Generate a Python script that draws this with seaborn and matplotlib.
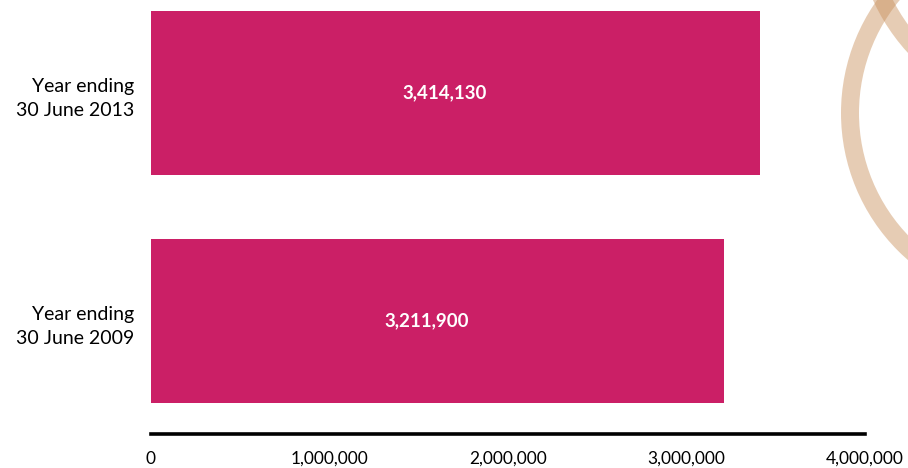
import matplotlib
matplotlib.use("Agg")
import matplotlib.pyplot as plt
import matplotlib.patches as mpatches
import seaborn as sns
import pandas as pd

categories = ["Year ending\n30 June 2013", "Year ending\n30 June 2009"]
values = [3414130, 3211900]
value_labels = ["3,414,130", "3,211,900"]
tick_values = [0, 1000000, 2000000, 3000000, 4000000]
tick_labels = ["0", "1,000,000", "2,000,000", "3,000,000", "4,000,000"]

sns.set_theme(style="white")
plt.rcParams["font.family"] = ["Lato", "DejaVu Sans"]

df = pd.DataFrame({"category": categories, "value": values})

fig = plt.figure(figsize=(9.08, 4.68), dpi=100)
ax = fig.add_axes([151 / 908, 1 - 434 / 468, (865 - 151) / 908, 434 / 468])
ax.patch.set_visible(False)

sns.barplot(data=df, x="value", y="category", orient="h", color="#CB1F66",
            saturation=1, width=0.72, ax=ax, linewidth=0)

ax.set_xlim(0, 4000000)
ax.set_ylim(1 + 0.4956, -0.408)
ax.set_xticks(tick_values)
ax.set_xticklabels(tick_labels, fontsize=12.5, color="black")
ax.tick_params(axis="x", length=0, pad=12)
ax.set_yticks([0, 1])
ax.set_yticklabels(categories, fontsize=14, linespacing=1.55,
                   color="black", ha="right")
ax.tick_params(axis="y", length=0, pad=12)
ax.set_xlabel("")
ax.set_ylabel("")
for s in ["top", "right", "left"]:
    ax.spines[s].set_visible(False)
ax.spines["bottom"].set_linewidth(2.6)
ax.spines["bottom"].set_color("black")

for i, (v, lab) in enumerate(zip(values, value_labels)):
    ax.annotate(lab, xy=(v / 2, i), xytext=(-8, 0), textcoords="offset points",
                ha="center", va="center", color="white", fontsize=13.5,
                fontweight="bold")

ring_color = "#C88F5A"
for (cx, cy, r) in [(1036, 113, 186), (1056, -83, 192)]:
    c = mpatches.Circle((cx / 100, (468 - cy) / 100), r / 100, fill=False,
                        edgecolor=ring_color, alpha=0.45, linewidth=18 * 0.72,
                        transform=fig.dpi_scale_trans, zorder=0)
    fig.add_artist(c)

fig.savefig("out.png", dpi=100)
